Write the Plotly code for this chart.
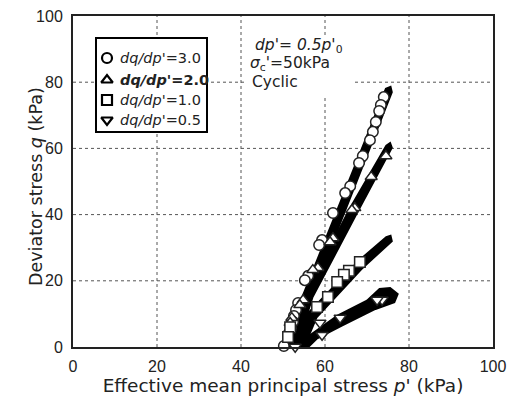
import plotly.graph_objects as go

# ---- data ----
# markers
c30_p = [74.0, 73.3, 72.9, 72.1, 71.4, 70.7, 69.0, 68.1, 66.0, 64.8, 61.9, 59.3, 58.6, 56.0, 55.2, 53.6, 53.1, 52.6, 52.4, 51.9, 50.2]
c30_q = [75.5, 73.1, 71.3, 68.0, 65.0, 62.5, 57.7, 55.6, 48.6, 46.5, 40.5, 32.3, 30.8, 21.5, 20.2, 13.3, 11.2, 9.4, 7.6, 5.7, 0.3]
c20_p = [74.5, 71.0, 67.1, 66.4, 61.9, 61.2, 58.3, 57.1, 54.8, 54.0, 52.1, 51.7, 51.4]
c20_q = [57.7, 51.4, 42.0, 41.4, 32.9, 31.7, 23.9, 23.3, 14.2, 12.7, 8.8, 7.3, 5.1]
c10_p = [68.3, 65.7, 64.5, 62.9, 60.7, 58.1, 51.7, 51.2]
c10_q = [25.7, 23.0, 21.8, 19.6, 15.1, 12.1, 6.0, 3.0]
c05_p = [73.6, 72.4, 63.6, 58.8, 59.3, 52.9]
c05_q = [14.2, 14.2, 8.8, 7.3, 3.6, 0.0]

# cyclic stress-path envelopes (dense loops drawn as filled bands)
b30_p = [50.3, 53.0, 62.5, 74.5, 75.6, 75.9, 64.4, 56.3, 54.0, 53.0]
b30_q = [0.0, 10.0, 40.0, 78.0, 78.6, 77.0, 40.0, 14.0, 5.0, 0.0]
b20_p = [51.0, 53.0, 66.0, 74.6, 75.5, 75.9, 67.4, 57.0, 55.0, 54.0]
b20_q = [0.0, 10.0, 42.0, 60.8, 61.6, 60.2, 40.0, 15.0, 7.0, 0.0]
b10_p = [51.3, 52.0, 68.0, 74.6, 75.6, 75.9, 68.6, 58.0, 56.0, 56.0]
b10_q = [0.0, 5.0, 26.0, 33.2, 33.6, 32.0, 23.5, 9.0, 3.0, 0.0]
b05_p = [52.5, 57.0, 63.0, 70.0, 73.0, 75.5, 77.3, 76.5, 74.0, 72.0, 64.0, 58.0, 56.0]
b05_q = [0.0, 4.0, 9.5, 14.0, 17.5, 17.8, 16.0, 13.5, 12.5, 11.5, 6.5, 2.5, 0.0]

x_ticks = [0, 20, 40, 60, 80, 100]
y_ticks = [0, 20, 40, 60, 80, 100]

names = ["<i>dq/dp'</i>=3.0", "<b><i>dq/dp'</i>=2.0</b>", "<i>dq/dp'</i>=1.0", "<i>dq/dp'</i>=0.5"]
symbols = ["circle", "triangle-up", "square", "triangle-down"]

W, H = 513, 397
ML, MR, MT, MB = 73, 20, 16, 50
PW, PH = W - ML - MR, H - MT - MB


def px(x):  # pixel -> paper x
    return (x - ML) / PW


def py(y):  # pixel -> paper y
    return (H - MB - y) / PH


fig = go.Figure()

for bp, bq in [(b30_p, b30_q), (b20_p, b20_q), (b10_p, b10_q), (b05_p, b05_q)]:
    fig.add_trace(go.Scatter(x=bp, y=bq, mode="lines", fill="toself", fillcolor="black",
                             line=dict(color="black", width=2), showlegend=False,
                             hoverinfo="skip", cliponaxis=False))

for (mp, mq), sym in zip([(c30_p, c30_q), (c20_p, c20_q), (c10_p, c10_q), (c05_p, c05_q)], symbols):
    fig.add_trace(go.Scatter(x=mp, y=mq, mode="markers", showlegend=False, cliponaxis=False,
                             marker=dict(symbol=sym, size=10.5, color="white",
                                         line=dict(color="#222", width=1.5))))

FONT = "Liberation Sans, Arial, sans-serif"
WIDE = "DejaVu Sans"

# ---- dotted grid (drawn as below-layer lines so the white boxes can mask it) ----
for t in x_ticks[1:-1]:
    fig.add_shape(type="line", xref="x", yref="paper", x0=t, x1=t, y0=0, y1=1, layer="below",
                  line=dict(color="#555", width=1, dash="dot"))
for t in y_ticks[1:-1]:
    fig.add_shape(type="line", xref="paper", yref="y", x0=0, x1=1, y0=t, y1=t, layer="below",
                  line=dict(color="#555", width=1, dash="dot"))

# ---- hand-built legend (box, key symbols on a pixel overlay axis, labels) ----
leg_rows = [58, 80, 100, 120]
fig.add_shape(type="rect", xref="paper", yref="paper", x0=px(96), x1=px(207), y0=py(132), y1=py(38),
              fillcolor="white", line=dict(color="black", width=2), layer="below")
for yy, sym in zip(leg_rows, symbols):
    fig.add_trace(go.Scatter(x=[107], y=[yy], xaxis="x2", yaxis="y2", mode="markers",
                             showlegend=False, hoverinfo="skip", cliponaxis=False,
                             marker=dict(symbol=sym, size=10, color="white",
                                         line=dict(color="black", width=2.2))))
for yy, nm in zip(leg_rows, names):
    fig.add_annotation(xref="paper", yref="paper", x=px(118), y=py(yy), xanchor="left",
                       yanchor="middle", text=nm, showarrow=False,
                       font=dict(family=WIDE, size=14.5, color="#222"))

# ---- condition text block with white background ----
fig.add_shape(type="rect", xref="paper", yref="paper", x0=px(246), x1=px(352), y0=py(95), y1=py(37),
              fillcolor="white", line=dict(width=0), layer="below")
fig.add_annotation(xref="paper", yref="paper", x=px(253), y=py(46), xanchor="left", yanchor="middle",
                   text="<i>dp'</i>= <i>0.5p'</i><sub>0</sub>", showarrow=False,
                   font=dict(family=WIDE, size=15.5, color="#222"))
fig.add_annotation(xref="paper", yref="paper", x=px(248), y=py(64), xanchor="left", yanchor="middle",
                   text="<i>σ</i><sub>c</sub>'=50kPa", showarrow=False,
                   font=dict(family=WIDE, size=15.5, color="#222"))
fig.add_annotation(xref="paper", yref="paper", x=px(250), y=py(82), xanchor="left", yanchor="middle",
                   text="Cyclic", showarrow=False,
                   font=dict(family=WIDE, size=15.5, color="#222"))

# y-axis title placed close to the two-digit tick labels
fig.add_annotation(xref="paper", yref="paper", x=px(36), y=py(187), xanchor="center", yanchor="middle",
                   text="Deviator stress <i>q</i> (kPa)", textangle=-90, showarrow=False,
                   font=dict(family=WIDE, size=17.5, color="#222"))

fig.update_layout(
    width=W, height=H,
    margin=dict(l=ML, r=MR, t=MT, b=MB, autoexpand=False),
    paper_bgcolor="white", plot_bgcolor="white",
    font=dict(family=FONT, size=16, color="#222"),
    showlegend=False,
    xaxis=dict(range=[0, 100], tickvals=x_ticks, ticks="", showline=True, linecolor="#222",
               linewidth=2, mirror=True, showgrid=False, zeroline=False,
               ticklabelstandoff=4, automargin=False,
               title=dict(text="Effective mean principal stress <i>p'</i> (kPa)",
                          font=dict(family=WIDE, size=18.5), standoff=4),
               tickfont=dict(size=16)),
    yaxis=dict(range=[0, 100], tickvals=y_ticks, ticks="", showline=True, linecolor="#222",
               linewidth=2, mirror=True, showgrid=False, zeroline=False,
               ticklabelstandoff=5, automargin=False,
               tickfont=dict(size=16)),
    xaxis2=dict(overlaying="x", range=[ML, ML + PW], visible=False, fixedrange=True),
    yaxis2=dict(overlaying="y", range=[H - MB, MT], visible=False, fixedrange=True),
)

fig.write_html("out.html")
